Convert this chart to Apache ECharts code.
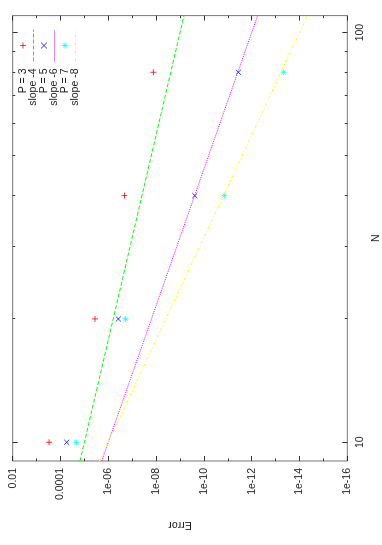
<!DOCTYPE html>
<html>
<head>
<meta charset="utf-8">
<script src="https://cdn.jsdelivr.net/npm/echarts@6/dist/echarts.min.js"></script>
<style>
  html, body { margin: 0; padding: 0; background: #fff; overflow: hidden; }
  #wrap { position: absolute; left: 0; top: 0; width: 382px; height: 545px; overflow: hidden; }
  /* plot is laid out landscape, then turned a quarter turn like the original page */
  #chart { position: absolute; left: 0; top: 0; width: 545px; height: 382px;
           transform-origin: 0 0; transform: translate(0, 545px) rotate(-90deg); }
</style>
</head>
<body>
<div id="wrap"><div id="chart"></div></div>
<script>
// measured errors
var nValues = [10, 20, 40, 80];
var errP3 = [3.0e-4, 3.6e-6, 2.1e-7, 1.3e-8];
var errP5 = [5.5e-5, 3.8e-7, 2.4e-10, 3.6e-12];
var errP7 = [2.2e-5, 1.9e-7, 1.4e-11, 4.6e-14];

// reference slope lines (ends at the plot edges)
var lineN = [9, 110];
var slope4Err = [1.52e-5, 6.83e-10];
var slope6Err = [1.88e-6, 5.64e-13];
var slope8Err = [2.32e-6, 4.67e-15];

// ticks
var nTicks = [10, 100];
var nMinorTicks = [20, 30, 40, 50, 60, 70, 80, 90];
var errTicks = [1e-2, 1e-4, 1e-6, 1e-8, 1e-10, 1e-12, 1e-14, 1e-16];
var errLabels = ['0.01', '0.0001', '1e-06', '1e-08', '1e-10', '1e-12', '1e-14', '1e-16'];
var errMinorTicks = [1e-3, 1e-5, 1e-7, 1e-9, 1e-11, 1e-13, 1e-15];

var font = "'Liberation Sans', Arial, sans-serif";
var textColor = '#222';
var tickColor = '#333';

var plusPath = 'path://M0,5H10M5,0V10';
var crossPath = 'path://M0,0L10,10M10,0L0,10';
var starPath = 'path://M0,5H10M5,0V10M1.5,1.5L8.5,8.5M8.5,1.5L1.5,8.5';

function pairs(ns, errs) {
  return ns.map(function (n, i) { return [n, errs[i]]; });
}

function errLabel(v) {
  for (var i = 0; i < errTicks.length; i++) {
    if (Math.abs(Math.log10(errTicks[i]) - Math.log10(v)) < 1e-6) return errLabels[i];
  }
  return '';
}

function nAxis(position, ticks, len, labelled) {
  return {
    type: 'log', logBase: 10, min: 9, max: 110, position: position,
    name: labelled ? 'N' : '', nameLocation: 'middle', nameGap: 19,
    nameTextStyle: { fontFamily: font, fontSize: 10.5, color: textColor },
    axisLine: { show: false },
    splitLine: { show: false },
    minorTick: { show: false },
    axisTick: { show: true, inside: true, length: len, customValues: ticks,
                lineStyle: { color: tickColor, width: 1 } },
    axisLabel: { show: labelled, customValues: ticks, margin: 7,
                 fontFamily: font, fontSize: 10.5, color: textColor,
                 formatter: function (v) { return String(Math.round(v)); } }
  };
}

function errAxis(position, ticks, len, labelled) {
  return {
    type: 'log', logBase: 10, min: 1e-16, max: 1e-2, position: position,
    name: labelled ? 'Error' : '', nameLocation: 'middle', nameGap: 58, nameRotate: 90,
    nameTextStyle: { fontFamily: font, fontSize: 10.5, color: textColor },
    axisLine: { show: false },
    splitLine: { show: false },
    minorTick: { show: false },
    axisTick: { show: true, inside: true, length: len, customValues: ticks,
                lineStyle: { color: tickColor, width: 1 } },
    axisLabel: { show: labelled, customValues: ticks, margin: 7,
                 fontFamily: font, fontSize: 10.5, color: textColor,
                 formatter: errLabel }
  };
}

// line entries in the key show only the line sample, no marker
var noMarker = { color: 'rgba(0,0,0,0)', borderWidth: 0 };

var option = {
  animation: false,
  grid: { left: 84, top: 12.7, right: 15.6, bottom: 34.7, show: true,
          borderColor: '#777', borderWidth: 1, containLabel: false, outerBoundsMode: 'none' },
  legend: {
    orient: 'vertical', right: 24, top: 12.5, align: 'right',
    itemWidth: 32, itemHeight: 6, itemGap: -0.5,
    itemStyle: { borderWidth: 1 },
    lineStyle: { width: 1 },
    textStyle: { fontFamily: font, fontSize: 10.5, color: textColor, padding: [0, 2, 0, 0] },
    data: [
      { name: 'P = 3' },
      { name: 'slope -4', itemStyle: noMarker },
      { name: 'P = 5' },
      { name: 'slope -6', itemStyle: noMarker },
      { name: 'P = 7' },
      { name: 'slope -8', itemStyle: noMarker }
    ]
  },
  xAxis: [
    nAxis('bottom', nTicks, 5, true),
    nAxis('bottom', nMinorTicks, 2.5, false),
    nAxis('top', nTicks, 5, false),
    nAxis('top', nMinorTicks, 2.5, false)
  ],
  yAxis: [
    errAxis('left', errTicks, 5, true),
    errAxis('left', errMinorTicks, 2.5, false),
    errAxis('right', errTicks, 5, false),
    errAxis('right', errMinorTicks, 2.5, false)
  ],
  series: [
    { name: 'P = 3', type: 'scatter', data: pairs(nValues, errP3),
      symbol: plusPath, symbolSize: 6, color: '#ff0000',
      itemStyle: { color: 'none', borderColor: '#ff0000', borderWidth: 1 } },
    { name: 'slope -4', type: 'line', data: pairs(lineN, slope4Err),
      symbol: 'none', color: '#00ff00',
      lineStyle: { color: '#00ff00', width: 1, type: [4, 2] } },
    { name: 'P = 5', type: 'scatter', data: pairs(nValues, errP5),
      symbol: crossPath, symbolSize: 5, color: '#0000ff',
      itemStyle: { color: 'none', borderColor: '#0000ff', borderWidth: 1 } },
    { name: 'slope -6', type: 'line', data: pairs(lineN, slope6Err),
      symbol: 'none', color: '#ff00ff',
      lineStyle: { color: '#ff00ff', width: 1, type: [1, 1] } },
    { name: 'P = 7', type: 'scatter', data: pairs(nValues, errP7),
      symbol: starPath, symbolSize: 6, color: '#00ffff',
      itemStyle: { color: 'none', borderColor: '#00ffff', borderWidth: 1 } },
    { name: 'slope -8', type: 'line', data: pairs(lineN, slope8Err),
      symbol: 'none', color: '#ffff00',
      lineStyle: { color: '#ffff00', width: 1, type: [3, 2, 1, 2] } }
  ]
};

var chart = echarts.init(document.getElementById('chart'));
chart.setOption(option);
</script>
</body>
</html>
